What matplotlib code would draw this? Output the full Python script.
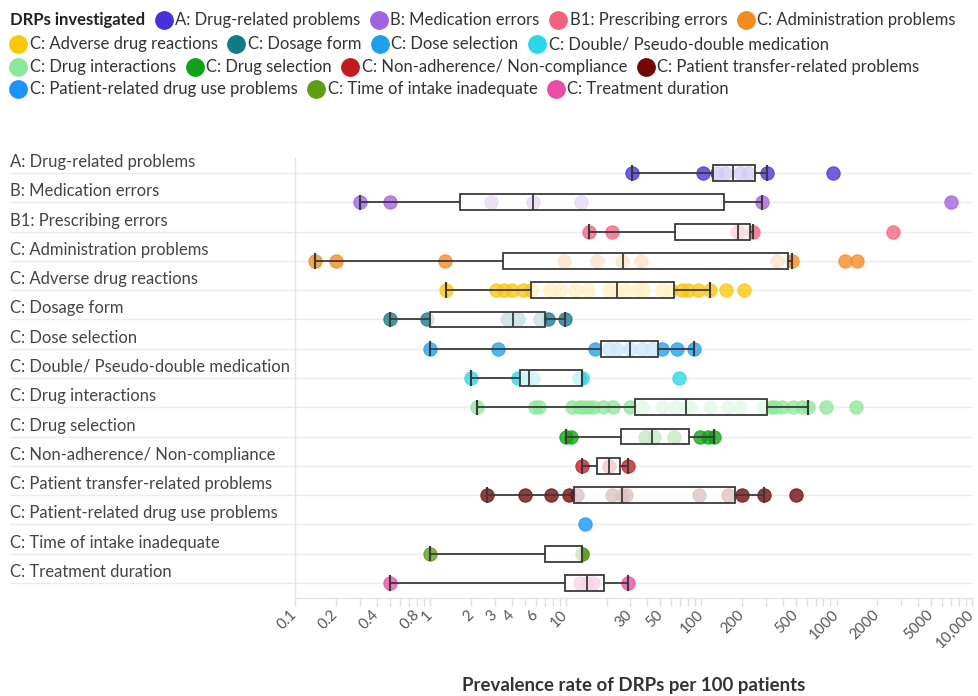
import matplotlib
matplotlib.use("Agg")
import matplotlib.pyplot as plt
import matplotlib.transforms as mtransforms
from matplotlib.ticker import LogLocator, NullFormatter
import numpy as np

plt.rcParams['font.family'] = ['Lato', 'DejaVu Sans']

# ---------------- data ----------------
categories = [
    "A: Drug-related problems",
    "B: Medication errors",
    "B1: Prescribing errors",
    "C: Administration problems",
    "C: Adverse drug reactions",
    "C: Dosage form",
    "C: Dose selection",
    "C: Double/ Pseudo-double medication",
    "C: Drug interactions",
    "C: Drug selection",
    "C: Non-adherence/ Non-compliance",
    "C: Patient transfer-related problems",
    "C: Patient-related drug use problems",
    "C: Time of intake inadequate",
    "C: Treatment duration",
]

colors = ["#4632DC", "#A062E0", "#F2637E", "#F58A1F", "#FAC70C", "#137B86",
          "#1DA1EC", "#29D8E6", "#8EE89B", "#10A214", "#C21B21", "#730606",
          "#1A93FA", "#5C9E16", "#EB4CA5"]

pts_A = [31, 103, 130, 150, 195, 220, 306, 940]
pts_B = [0.3, 0.5, 2.8, 5.7, 13, 281, 7000]
pts_B1 = [14.8, 22, 185, 189, 241, 2600]
pts_admin = [0.14, 0.2, 1.28, 9.7, 17, 26, 36, 363, 470, 1150, 1420]
pts_adr = [1.3, 3.05, 3.5, 4.0, 4.8, 5.5, 7.6, 9.1, 11.7, 14.6, 21, 24, 28, 34,
           37, 51, 60, 72, 80, 95, 116, 152, 207]
pts_dosage = [0.5, 0.94, 3.7, 4.4, 6.4, 7.4, 9.9]
pts_dose = [1.0, 3.16, 16.4, 21, 24, 30, 36.5, 43, 51, 66, 88]
pts_double = [2.0, 4.4, 5.3, 5.7, 12.5, 13.2, 68.5]
pts_inter = [2.2, 5.9, 6.3, 11.1, 12.5, 13.4, 14.6, 16, 18.8, 22.3, 29.8, 36.5,
             51, 64, 77, 83, 116, 158, 194, 286, 330, 351, 395, 476, 555, 615,
             835, 1390]
pts_drugsel = [10, 11, 38.5, 45, 63, 98, 112, 124]
pts_nonadh = [13.2, 20.8, 28.8]
pts_transfer = [2.6, 5.0, 7.8, 10.6, 12.1, 21.9, 26, 28, 96, 158, 200, 291, 501]
pts_patient = [13.9]
pts_time = [1.0, 13.2, 13.2]
pts_treat = [0.5, 12.7, 14.3, 16, 28.8]

all_points = [pts_A, pts_B, pts_B1, pts_admin, pts_adr, pts_dosage, pts_dose,
              pts_double, pts_inter, pts_drugsel, pts_nonadh, pts_transfer,
              pts_patient, pts_time, pts_treat]

# box statistics (None = no box)
box_whislo = [31, 0.3, 14.8, 0.14, 1.3, 0.5, 1.0, 2.0, 2.2, 10, 13.2, 2.6, None, 1.0, 0.5]
box_q1 = [122, 1.65, 64, 3.44, 5.5, 1.0, 18.2, 4.6, 32.4, 25.6, 17, 11.5, None, 7.0, 9.9]
box_med = [172, 5.7, 187, 26.4, 24, 4.07, 29.8, 5.35, 77, 43.3, 20.8, 26, None, 13.2, 14.3]
box_q3 = [250, 147, 229, 440, 63, 7.0, 48, 13.2, 306, 81, 25.1, 178, None, 13.2, 19.1]
box_whishi = [306, 281, 241, 470, 116, 9.9, 88, 13.2, 615, 124, 28.8, 291, None, 13.2, 28.8]

tick_vals = [0.1, 0.2, 0.4, 0.8, 1, 2, 3, 4, 6, 10, 30, 50, 100, 200, 500,
             1000, 2000, 5000, 10000]
tick_labels = ["0.1", "0.2", "0.4", "0.8", "1", "2", "3", "4", "6", "10", "30",
               "50", "100", "200", "500", "1000", "2000", "5000", "10,000"]

# ---------------- figure ----------------
W, H = 979, 696
fig = plt.figure(figsize=(W / 100, H / 100), dpi=100)
ax = fig.add_axes([295 / W, (H - 597.5) / H, (972 - 295) / W, (597.5 - 158.5) / H])
ax.set_xscale('log')
ax.set_xlim(0.1, 10000)
ax.set_ylim(len(categories) - 0.5, -0.5)
ax.autoscale(False)

# grid lines spanning label area
gtrans = mtransforms.blended_transform_factory(fig.transFigure, ax.transData)
for i in range(len(categories)):
    ax.plot([10 / W, 972 / W], [i, i], transform=gtrans, color='#ececec',
            lw=1, clip_on=False, zorder=0)

# points
for i, (pts, c) in enumerate(zip(all_points, colors)):
    ax.scatter(pts, [i] * len(pts), s=92, color=c, alpha=0.78, edgecolors=c,
               linewidths=0.8, zorder=2)

# boxes
stats, pos = [], []
for i in range(len(categories)):
    if box_q1[i] is None:
        continue
    stats.append(dict(med=box_med[i], q1=box_q1[i], q3=box_q3[i],
                      whislo=box_whislo[i], whishi=box_whishi[i], fliers=[]))
    pos.append(i)
edge = '#3a3a3a'
ax.bxp(stats, positions=pos, orientation='horizontal', widths=0.54,
       capwidths=0.46, patch_artist=True, showfliers=False,
       boxprops=dict(facecolor=(1, 1, 1, 0.76), edgecolor=edge, linewidth=1.3),
       whiskerprops=dict(color=edge, linewidth=1.3),
       capprops=dict(color=edge, linewidth=1.5),
       medianprops=dict(color=edge, linewidth=1.3),
       zorder=3, manage_ticks=False)

# axes styling
for s in ['top', 'right']:
    ax.spines[s].set_visible(False)
for s in ['left', 'bottom']:
    ax.spines[s].set_color('#e4e4e4')
    ax.spines[s].set_linewidth(1)
ax.set_yticks([])
ax.set_xticks(tick_vals)
ax.set_xticklabels(tick_labels, rotation=45, ha='right', va='center',
                   rotation_mode='anchor', fontsize=10.8, color='#555555')
ax.xaxis.set_minor_locator(LogLocator(base=10, subs=np.arange(2, 10)))
ax.xaxis.set_minor_formatter(NullFormatter())
ax.tick_params(axis='x', which='both', length=6, color='#dedede', width=1)
ax.tick_params(axis='x', which='major', pad=5)

# category labels
ltrans = mtransforms.offset_copy(gtrans, fig=fig, x=0, y=6, units='dots')
for i, cat in enumerate(categories):
    ax.text(10 / W, i, cat, transform=ltrans, ha='left', va='baseline',
            fontsize=12, color='#444444')

# x-axis title
fig.text(633.5 / W, 1 - 686 / H, "Prevalence rate of DRPs per 100 patients",
         ha='center', va='center', fontsize=13.4, fontweight='bold', color='#333333')

# legend (manual flow layout in pixel coordinates)
lax = fig.add_axes([0, 0, 1, 1])
lax.set_xlim(0, W)
lax.set_ylim(H, 0)
lax.axis('off')
renderer = fig.canvas.get_renderer()
rows = [[0, 1, 2, 3], [4, 5, 6, 7], [8, 9, 10, 11], [12, 13, 14]]
row_y = [20, 44, 67, 89]
title = lax.text(10, row_y[0], "DRPs investigated", fontsize=12, fontweight='bold',
                 va='center', ha='left', color='#222222')
tw = title.get_window_extent(renderer).width
for r, idxs in enumerate(rows):
    x = 10 + tw + 10 if r == 0 else 10
    y = row_y[r]
    for k in idxs:
        lax.plot([x + 8.5], [y], 'o', ms=12.5, color=colors[k], mec=colors[k])
        t = lax.text(x + 20, y, categories[k], fontsize=12, va='center',
                     ha='left', color='#333333')
        w = t.get_window_extent(renderer).width
        x += 20 + w + 10

fig.savefig("out.png", dpi=100)
